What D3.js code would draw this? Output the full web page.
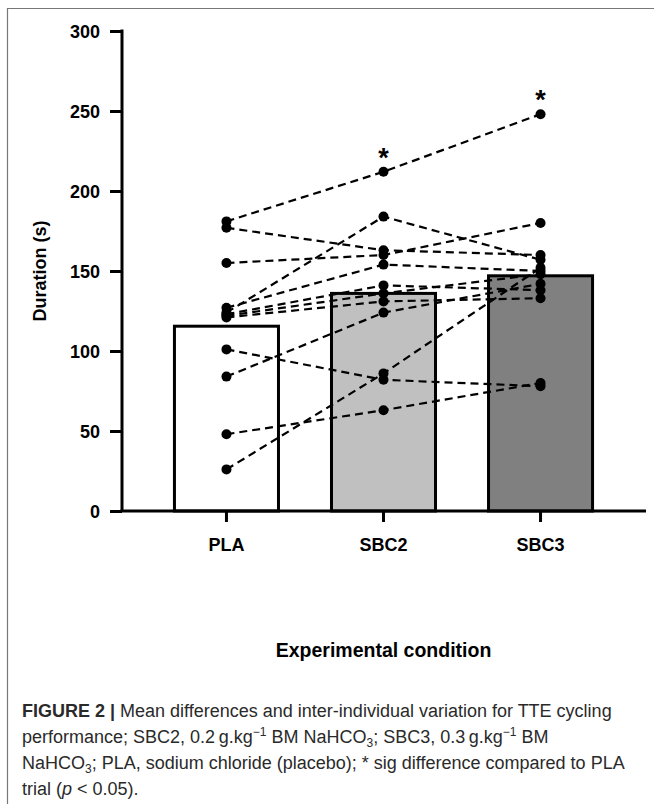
<!DOCTYPE html>
<html>
<head>
<meta charset="utf-8">
<script src="https://cdn.jsdelivr.net/npm/d3@7"></script>
<style>
  body { margin: 0; background: #fff; }
  svg { display: block; }
  .tick text { font-family: "Liberation Sans", Arial, sans-serif; font-weight: bold; }
  .caption { font-family: "Liberation Sans", Arial, sans-serif; font-size: 18px; fill: #2a2a2a; }
</style>
</head>
<body>
<div id="chart"></div>
<script>
// conditions and group means (bar heights)
var conditions = ['PLA', 'SBC2', 'SBC3'];
var means = [115.5, 136, 147];
var barColors = ['#ffffff', '#c0c0c0', '#808080'];

// individual participants, duration (s) per condition
var pla  = [181, 177, 155, 124, 127, 123, 122, 121, 101, 84, 48, 26];
var sbc2 = [212, 163, 160, 184, 154, 141, 136, 131, 82, 124, 63, 86];
var sbc3 = [248, 160, 180, 157, 150, 138, 148, 133, 78, 142, 80, 152];

var yTicks = [0, 50, 100, 150, 200, 250, 300];
var sigFlags = [false, true, true];

var w = 654, h = 804;
var svg = d3.select('#chart').append('svg')
  .attr('width', w)
  .attr('height', h);

// page frame
svg.append('path')
  .attr('d', 'M7.5,' + h + ' V8.5 H' + w)
  .attr('fill', 'none')
  .attr('stroke', '#777')
  .attr('stroke-width', 1.2);

var x = d3.scaleBand()
  .domain(conditions)
  .range([122, 645])
  .paddingInner(0.3376)
  .paddingOuter(0.334);

var y = d3.scaleLinear()
  .domain([0, 300])
  .range([511, 31]);

var plot = svg.append('g');

// bars
plot.selectAll('.bar')
  .data(conditions)
  .enter()
  .append('rect')
  .attr('class', 'bar')
  .attr('x', d => x(d))
  .attr('width', x.bandwidth())
  .attr('y', (d, i) => y(means[i]))
  .attr('height', (d, i) => y(0) - y(means[i]))
  .attr('fill', (d, i) => barColors[i])
  .attr('stroke', '#000')
  .attr('stroke-width', 3);

// participant lines
var subjects = pla.map((v, i) => [pla[i], sbc2[i], sbc3[i]]);
var line = d3.line()
  .x((d, i) => x(conditions[i]) + x.bandwidth() / 2)
  .y(d => y(d));

plot.selectAll('.subject')
  .data(subjects)
  .enter()
  .append('path')
  .attr('class', 'subject')
  .attr('d', line)
  .attr('fill', 'none')
  .attr('stroke', '#000')
  .attr('stroke-width', 2.2)
  .attr('stroke-dasharray', '8,5');

// dots
var dots = [];
subjects.forEach(s => s.forEach((v, i) => dots.push({ c: conditions[i], v: v })));
plot.selectAll('.dot')
  .data(dots)
  .enter()
  .append('circle')
  .attr('class', 'dot')
  .attr('cx', d => x(d.c) + x.bandwidth() / 2)
  .attr('cy', d => y(d.v))
  .attr('r', 5)
  .attr('fill', '#000');

// significance stars
plot.selectAll('.star')
  .data(conditions.filter((c, i) => sigFlags[i]))
  .enter()
  .append('text')
  .attr('class', 'star')
  .attr('x', d => x(d) + x.bandwidth() / 2)
  .attr('y', d => y(d3.max(subjects, s => s[conditions.indexOf(d)])) - 5)
  .attr('text-anchor', 'middle')
  .style('font-family', '"Liberation Sans", Arial, sans-serif')
  .style('font-size', '27px')
  .style('font-weight', 'bold')
  .text('*');

// axes
var yAxis = svg.append('g')
  .attr('transform', 'translate(122,0)')
  .call(d3.axisLeft(y).tickValues(yTicks).tickSize(12).tickPadding(10).tickSizeOuter(0));
yAxis.select('.domain').attr('stroke-width', 3).attr('d', 'M0,' + y(0) + 'V' + (y(300) - 1.5));
yAxis.selectAll('.tick line').attr('stroke-width', 3);
yAxis.selectAll('.tick text').style('font-size', '18px').attr('dy', '0.35em');

var xAxis = svg.append('g')
  .attr('transform', 'translate(0,' + y(0) + ')')
  .call(d3.axisBottom(x).tickSize(11).tickPadding(16).tickSizeOuter(0));
xAxis.select('.domain').attr('stroke-width', 3).attr('d', 'M120.5,0H646');
xAxis.selectAll('.tick line').attr('stroke-width', 3);
xAxis.selectAll('.tick text').style('font-size', '18px');

// axis titles
svg.append('text')
  .attr('transform', 'translate(46,' + y(150) + ') rotate(-90)')
  .attr('text-anchor', 'middle')
  .style('font-family', '"Liberation Sans", Arial, sans-serif')
  .style('font-size', '18px')
  .style('font-weight', 'bold')
  .text('Duration (s)');

svg.append('text')
  .attr('x', x('SBC2') + x.bandwidth() / 2)
  .attr('y', 657)
  .attr('text-anchor', 'middle')
  .style('font-family', '"Liberation Sans", Arial, sans-serif')
  .style('font-size', '19.5px')
  .style('font-weight', 'bold')
  .text('Experimental condition');

// caption
var cap = svg.append('g');
var l1 = cap.append('text').attr('class', 'caption').attr('x', 22).attr('y', 717);
l1.append('tspan').style('font-weight', 'bold').text('FIGURE 2 | ');
l1.append('tspan').text('Mean differences and inter-individual variation for TTE cycling');

var l2 = cap.append('text').attr('class', 'caption').attr('x', 22).attr('y', 743);
l2.append('tspan').text('performance; SBC2, 0.2\u2009g.kg');
l2.append('tspan').attr('dy', -7).style('font-size', '12px').text('\u22121');
l2.append('tspan').attr('dy', 7).text(' BM NaHCO');
l2.append('tspan').attr('dy', 4).style('font-size', '12px').text('3');
l2.append('tspan').attr('dy', -4).text('; SBC3, 0.3\u2009g.kg');
l2.append('tspan').attr('dy', -7).style('font-size', '12px').text('\u22121');
l2.append('tspan').attr('dy', 7).text(' BM');

var l3 = cap.append('text').attr('class', 'caption').attr('x', 22).attr('y', 769);
l3.append('tspan').text('NaHCO');
l3.append('tspan').attr('dy', 4).style('font-size', '12px').text('3');
l3.append('tspan').attr('dy', -4).text('; PLA, sodium chloride (placebo); * sig difference compared to PLA');

var l4 = cap.append('text').attr('class', 'caption').attr('x', 22).attr('y', 795);
l4.append('tspan').text('trial (');
l4.append('tspan').style('font-style', 'italic').text('p');
l4.append('tspan').text(' < 0.05).');
</script>
</body>
</html>
